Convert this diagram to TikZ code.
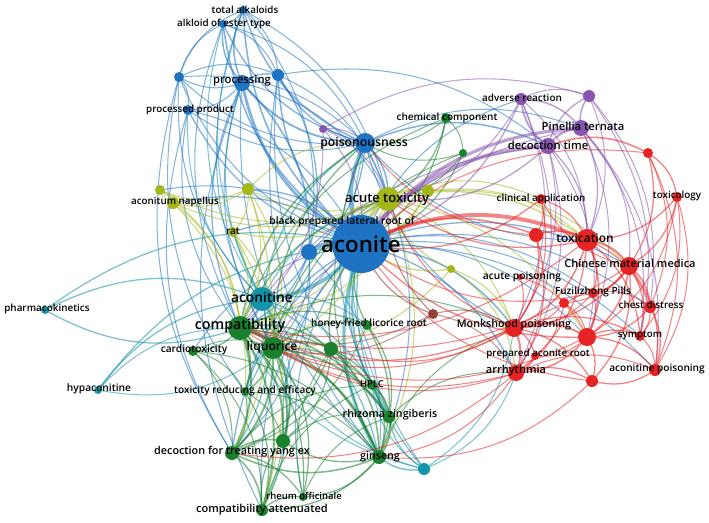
\documentclass[tikz,border=0pt]{standalone}
\usepackage{fontspec}
\setmainfont{Open Sans}
\IfFontExistsTF{Open Sans SemiBold}{\newfontfamily\labf{Open Sans SemiBold}}{%
  \IfFontExistsTF{Open Sans Semibold}{\newfontfamily\labf{Open Sans Semibold}}{%
    \newfontfamily\labf{Open Sans}[FakeBold=2.5]}}
\definecolor{cB}{RGB}{30,115,195}
\definecolor{cT}{RGB}{20,148,170}
\definecolor{cG}{RGB}{25,128,45}
\definecolor{cY}{RGB}{165,182,25}
\definecolor{cP}{RGB}{135,85,175}
\definecolor{cR}{RGB}{232,35,35}
\definecolor{cBr}{RGB}{150,65,55}
\tikzset{
  edge/.style={draw opacity=0.55, line cap=round},
  nd/.style={circle, inner sep=0pt, draw=none},
  lab/.style={inner sep=0pt, text=black},
}
\begin{document}
\begin{tikzpicture}[x=1pt,y=-1pt]
\useasboundingbox (0,0) rectangle (709,522);
\fill[white] (0,0) rectangle (709,522);
% coordinates
\coordinate (aco) at (361,244);
\coordinate (b2) at (309,252);
\coordinate (poi) at (365,143);
\coordinate (proc) at (242,83);
\coordinate (b5) at (278,75);
\coordinate (b6) at (179,77);
\coordinate (pp) at (188,110);
\coordinate (tal) at (243,10);
\coordinate (aet) at (223,24);
\coordinate (bpl) at (342,222);
\coordinate (pu1) at (323,129);
\coordinate (adv) at (521,99);
\coordinate (pu2) at (589,96);
\coordinate (pin) at (581,128);
\coordinate (dt) at (548,146);
\coordinate (atn) at (262,299);
\coordinate (pk) at (45,310);
\coordinate (hyp) at (98,390);
\coordinate (te4) at (424,469);
\coordinate (comp) at (240,328);
\coordinate (liq) at (273,348);
\coordinate (card) at (193,351);
\coordinate (g4) at (331,349);
\coordinate (hfl) at (367,325);
\coordinate (hplc) at (372,385);
\coordinate (rz) at (389,417);
\coordinate (gin) at (379,457);
\coordinate (tre) at (245,392);
\coordinate (g10) at (283,441);
\coordinate (dty) at (232,453);
\coordinate (rheum) at (303,497);
\coordinate (ca) at (262,510);
\coordinate (cc) at (446,118);
\coordinate (g15) at (463,153);
\coordinate (at) at (388,199);
\coordinate (y2) at (428,191);
\coordinate (y3) at (248,189);
\coordinate (rat) at (233,232);
\coordinate (an) at (173,203);
\coordinate (y6) at (160,190);
\coordinate (y7) at (451,269);
\coordinate (br) at (433,314);
\coordinate (r1) at (648,153);
\coordinate (tox) at (677,197);
\coordinate (clin) at (541,199);
\coordinate (r4) at (536,235);
\coordinate (txc) at (587,240);
\coordinate (cmm) at (629,266);
\coordinate (ap) at (520,277);
\coordinate (fz) at (593,293);
\coordinate (r9) at (564,303);
\coordinate (cd) at (650,307);
\coordinate (mp) at (514,328);
\coordinate (r12) at (587,337);
\coordinate (sym) at (640,336);
\coordinate (par) at (535,356);
\coordinate (arr) at (516,373);
\coordinate (acp) at (655,370);
\coordinate (r17) at (592,381);
% ---------- edges
% blue
\foreach \a/\b/\w in {aco/poi/3, aco/proc/2.2, aco/b5/1.2, aco/tal/1.2, aco/aet/1.2, aco/b6/0.8, aco/pp/1, b2/aco/3, aco/bpl/1, poi/proc/1.5, poi/tal/1.2, poi/aet/1, poi/b5/1, poi/b6/0.8, poi/pp/0.8, poi/at/1.2, poi/dt/1.2, poi/pin/0.8, poi/b2/1, proc/tal/1.2, proc/aet/1.2, proc/b5/1, proc/b6/0.8, proc/pp/0.8, b6/pp/0.8, b6/b5/0.8, b6/aet/0.8, b6/tal/0.8, tal/b5/0.8, aet/b5/0.8, tal/aet/0.8, proc/b2/1.2, b5/b2/1, tal/b2/0.8, comp/proc/1, liq/proc/0.8, dty/pp/0.8, comp/pp/0.8, atn/b6/0.8, gin/proc/0.8, tre/b6/0.8, comp/aet/0.8, liq/tal/0.8, rz/b5/0.8, hplc/poi/0.8, ca/proc/0.8, aco/adv/0.8, aco/cmm/1, aco/mp/1.2, aco/arr/1, aco/r12/0.8, aco/fz/0.8, aco/sym/0.8, aco/cd/0.8, aco/acp/0.8, mp/poi/0.8, txc/poi/0.8, dty/aco/1, ca/aco/0.8, tre/aco/1, rheum/aco/0.8, g10/aco/1, card/aco/0.8, rat/aco/1, an/aco/1, y3/aco/1, y6/aco/0.8, b2/comp/1, b2/atn/1, b2/liq/0.8, dty/b6/0.8, gin/b5/0.8, b5/at/0.8, tal/at/0.8, aet/poi/0.8, b6/poi/0.8, pp/aco/0.8, proc/at/0.8, b5/dt/0.8, poi/gin/0.8, b2/gin/0.8, b2/dty/0.8}
  {\draw[edge, cB, line width=1.3*\w pt] (\a) to[bend left=24] (\b);}
% teal
\foreach \a/\b/\w in {aco/atn/3, gin/aco/2.5, pk/aco/1, comp/pk/1, pk/atn/1, hyp/aco/1, hyp/atn/1, hyp/comp/0.8, liq/hyp/0.8, te4/aco/1, te4/gin/1.2, te4/rz/1, arr/te4/0.8, mp/te4/0.8, te4/hplc/0.8, te4/liq/0.8, atn/comp/1.5, atn/liq/1.5, atn/tre/1, atn/dty/1, atn/ca/0.8, atn/gin/1, atn/rz/1, atn/hfl/0.8, atn/poi/1.2, atn/proc/1, atn/pp/0.8, atn/tal/0.8, atn/at/0.8, hplc/aco/1, rz/aco/1.5, te4/comp/0.8, te4/poi/0.8, atn/g10/0.8, atn/aet/0.8}
  {\draw[edge, cT, line width=1.3*\w pt] (\a) to[bend left=24] (\b);}
% green
\foreach \a/\b/\w in {comp/liq/2.5, comp/card/1, comp/tre/1.5, comp/dty/1.5, comp/ca/1.5, comp/rheum/1, comp/g10/1.5, comp/gin/1.5, comp/rz/1.2, comp/hplc/1, comp/g4/1.2, comp/hfl/1, liq/tre/1.2, liq/dty/1.5, liq/ca/1.2, liq/g10/1.5, liq/gin/1.5, liq/rz/1.5, liq/hfl/1.2, liq/g4/1.2, liq/hplc/1, liq/rheum/1, g4/gin/1.2, g4/g10/1, g4/dty/1, g4/rz/1, hfl/rz/1, hfl/gin/1, hplc/rz/1.2, hplc/gin/1.2, rz/gin/1.5, gin/dty/1.2, gin/ca/1, gin/g10/1, gin/rheum/1, dty/ca/1.2, dty/rheum/1, dty/g10/1.2, ca/rheum/1, ca/g10/1, card/dty/0.8, card/ca/0.8, card/liq/0.8, card/tre/0.8, tre/dty/1, tre/ca/1, tre/g10/0.8, cc/at/1, cc/aco/1, cc/g15/0.8, g15/aco/1, g15/at/0.8, comp/cc/0.8, liq/g15/0.8, hfl/aco/1, g4/aco/1.2, comp/at/1, liq/at/1, gin/mp/0.8, rz/arr/0.8, comp/poi/1.2, liq/poi/1, gin/poi/0.8, comp/mp/0.8, rheum/g4/0.8, ca/hplc/0.8, tre/gin/0.8, dty/hplc/0.8, card/gin/0.8, g10/rz/0.8, rheum/rz/0.8, hfl/dty/0.8, cc/poi/0.8, g15/poi/0.8}
  {\draw[edge, cG, line width=1.3*\w pt] (\a) to[bend left=24] (\b);}
% olive
\foreach \a/\b/\w in {at/y2/1.2, at/y3/0.8, at/rat/0.8, at/an/0.8, at/y6/0.8, aco/at/3, y3/rat/0.8, y3/an/0.8, y3/y6/0.8, y3/comp/0.8, y3/liq/0.8, rat/comp/0.8, rat/liq/0.8, an/y6/0.8, an/comp/0.8, y2/aco/1, y7/aco/1, y7/at/0.8, y7/mp/0.8, y2/txc/0.8, at/txc/1, at/mp/0.8, at/clin/0.8, at/comp/0.8, y3/dty/0.8, an/tre/0.8, rat/ca/0.8, y2/comp/0.8, at/gin/0.8, y7/liq/0.8, y6/comp/0.8, bpl/at/0.8, at/r12/0.8, y2/cmm/0.8, y7/arr/0.8, at/liq/0.8, y3/poi/0.8}
  {\draw[edge, cY, line width=1.3*\w pt] (\a) to[bend left=24] (\b);}
% purple
\foreach \a/\b/\w in {dt/adv/1.5, dt/pin/1.5, dt/pu2/1, adv/pin/1.2, adv/pu2/0.8, pin/pu2/1.2, aco/dt/3, aco/pin/2.5, adv/aco/1, pu1/poi/0.8, pu1/at/0.8, pu1/pu2/0.8, pu1/aco/0.8, dt/txc/1, dt/mp/0.8, dt/arr/0.8, pin/cmm/0.8, pin/sym/0.8, adv/mp/0.8, adv/arr/0.8, pu2/cd/0.8, dt/r12/0.8, pin/txc/1, adv/txc/0.8, pu2/txc/0.8, pin/acp/0.8, comp/dt/0.8, liq/pin/0.8, adv/at/0.8, dt/at/1, pu1/comp/0.8, pin/r12/0.8, pu2/sym/0.8}
  {\draw[edge, cP, line width=1.3*\w pt] (\a) to[bend left=24] (\b);}
% red
\foreach \a/\b/\w in {r1/tox/1, r1/cmm/1, r1/cd/0.8, r1/acp/0.8, dt/r1/1.2, aco/r1/0.8, tox/cmm/1, tox/txc/1, tox/sym/0.8, tox/acp/0.8, tox/r12/0.8, clin/txc/1, clin/r4/1, clin/mp/0.8, r4/txc/1.2, r4/mp/1, r4/arr/1, aco/r4/1.2, txc/cmm/1.5, txc/fz/1, txc/mp/1.2, txc/r12/1.2, txc/arr/1, txc/cd/1, txc/sym/1, aco/txc/3, cmm/cd/1.2, cmm/sym/1, cmm/r12/1.2, cmm/fz/1, cmm/r9/0.8, cmm/mp/1, cmm/acp/1, cmm/r17/1, ap/mp/0.8, ap/r12/0.8, fz/r12/0.8, fz/cd/0.8, fz/mp/0.8, r9/mp/0.8, r9/r12/0.8, r9/arr/0.8, cd/sym/0.8, cd/acp/1, cd/r12/1, mp/r12/1.5, mp/arr/1.5, mp/par/1, mp/r17/1, mp/sym/1, r12/sym/1, r12/par/0.8, r12/arr/1.2, r12/r17/1, r12/acp/1, sym/acp/0.8, par/arr/0.8, arr/r17/1, acp/r17/1, arr/acp/0.8, mp/comp/1, arr/liq/0.8, arr/gin/0.8, r12/aco/1, clin/aco/1, mp/at/0.8, txc/at/1, r17/aco/0.8, cmm/clin/0.8, mp/liq/0.8, mp/g4/0.8, arr/comp/0.8, r12/liq/0.8, cmm/comp/0.8, r4/poi/0.8, txc/comp/0.8, arr/dty/0.8, r17/gin/0.8, fz/aco/0.8}
  {\draw[edge, cR, line width=1.3*\w pt] (\a) to[bend left=24] (\b);}
% brown
\foreach \a/\b/\w in {br/aco/1, br/mp/0.8, br/arr/0.8, br/at/1, br/comp/0.8, br/liq/0.8}
  {\draw[edge, cBr, line width=1.3*\w pt] (\a) to[bend left=24] (\b);}
% ---------- node circles
\foreach \n/\r/\c in {aco/29/cB, b2/8/cB, poi/10/cB, proc/8/cB, b5/6/cB, b6/5/cB, pp/5/cB, tal/4/cB, aet/4/cB, bpl/3/cB,
  pu1/4/cP, adv/6/cP, pu2/6/cP, pin/8/cP, dt/8/cP,
  atn/12/cT, pk/4/cT, hyp/4/cT, te4/6/cT,
  comp/12/cG, liq/11/cG, card/5/cG, g4/7/cG, hfl/5/cG, hplc/5/cG, rz/6/cG, gin/7/cG, tre/4/cG, g10/7/cG, dty/7/cG, rheum/4/cG, ca/6/cG, cc/5/cG, g15/4/cG,
  at/12/cY, y2/6/cY, y3/6/cY, rat/5/cY, an/6/cY, y6/5/cY, y7/4/cY,
  br/5/cBr,
  r1/5/cR, tox/5/cR, clin/5/cR, r4/7/cR, txc/11/cR, cmm/9/cR, ap/3/cR, fz/5/cR, r9/5/cR, cd/6/cR, mp/9/cR, r12/9/cR, sym/5/cR, par/4/cR, arr/8/cR, acp/6/cR, r17/6/cR}
  {\node[nd, fill=\c, minimum size=2*\r pt] (c-\n) at (\n) {};}
% ---------- labels
\foreach \n/\x/\y/\fs/\t in {
  aco/361/244/22.3/aconite,
  poi/364/143/12.2/poisonousness,
  at/387/199/13/acute toxicity,
  atn/262/297/13.8/aconitine,
  comp/240/326/14.3/compatibility,
  liq/272/347/12.1/liquorice,
  txc/585/238/11.9/toxication,
  cmm/630/263/11/Chinese material medica,
  mp/514/325/10.7/Monkshood poisoning,
  proc/242/81/11.2/processing,
  dt/548/145/11.2/decoction time,
  pin/583/126/11.2/Pinellia ternata,
  arr/516/371/11/arrhythmia,
  dty/232/452/10.8/decoction for treating yang ex,
  gin/380/457/10.7/ginseng,
  rz/390/415/10.7/rhizoma zingiberis,
  ca/262/510/11/compatibility attenuated,
  tal/245/10/9.8/total alkaloids,
  aet/224/24/9.8/alkloid of ester type,
  pp/190/110/9.8/processed product,
  an/175/202/9.8/aconitum napellus,
  rat/233/231/9.8/rat,
  bpl/342/222/10.3/black prepared lateral root of,
  pk/47/309/9.9/pharmacokinetics,
  hyp/99/389/10.2/hypaconitine,
  card/194/350/10.2/cardiotoxicity,
  hfl/369/324/10/honey-fried licorice root,
  tre/245/391/10.1/toxicity reducing and efficacy,
  hplc/372/384/9.5/HPLC,
  rheum/304/496/9.5/rheum officinale,
  cc/447/118/10/chemical component,
  adv/522/98/9.9/adverse reaction,
  clin/541/199/9.9/clinical application,
  tox/677/196/9.8/toxicology,
  ap/522/277/10.2/acute poisoning,
  fz/593/292/10/Fuzilizhong Pills,
  cd/651/305/9.8/chest distress,
  sym/640/335/9.7/symptom,
  par/538/354/9.8/prepared aconite root,
  acp/657/369/10.1/aconitine poisoning}
  {\node[lab, font=\labf\fontsize{\fs}{\fs}\selectfont] (l-\n) at (\x,\y) {\t};}
\end{tikzpicture}
\end{document}
